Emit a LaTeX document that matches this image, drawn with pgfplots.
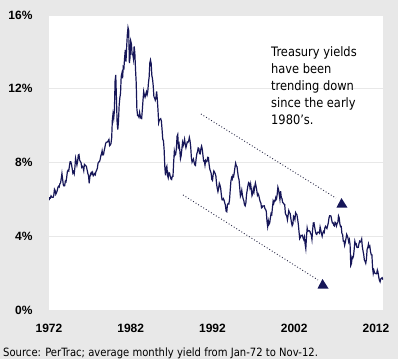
\documentclass[border=0pt]{standalone}
\usepackage{pgfplots}
\pgfplotsset{compat=1.18}
\usepackage{pgfplotstable}
\usepackage{fontspec}
\setmainfont{Liberation Sans}
\newfontfamily\tah{DejaVu Sans}[FakeStretch=0.88]
\definecolor{bg}{RGB}{232,232,232}
\definecolor{navy}{RGB}{22,22,88}
\definecolor{dotc}{RGB}{40,40,70}
\definecolor{gridc}{RGB}{232,232,232}

\pgfplotstableread[row sep=\\]{
y\\
5.95\\ 6.08\\ 6.07\\ 6.19\\ 6.13\\ 6.11\\ 6.11\\ 6.21\\ 6.55\\ 6.48\\ 6.28\\ 6.36\\
6.46\\ 6.64\\ 6.71\\ 6.67\\ 6.85\\ 6.90\\ 7.13\\ 7.40\\ 7.09\\ 6.79\\ 6.73\\ 6.74\\
6.99\\ 6.96\\ 7.21\\ 7.51\\ 7.58\\ 7.54\\ 7.81\\ 8.04\\ 8.04\\ 7.90\\ 7.68\\ 7.43\\
7.50\\ 7.39\\ 7.73\\ 8.23\\ 8.06\\ 7.86\\ 8.06\\ 8.40\\ 8.43\\ 8.14\\ 8.05\\ 8.00\\
7.74\\ 7.79\\ 7.73\\ 7.56\\ 7.90\\ 7.86\\ 7.83\\ 7.77\\ 7.59\\ 7.41\\ 7.29\\ 6.87\\
7.21\\ 7.39\\ 7.46\\ 7.37\\ 7.46\\ 7.28\\ 7.33\\ 7.40\\ 7.34\\ 7.52\\ 7.58\\ 7.69\\
7.96\\ 8.03\\ 8.04\\ 8.15\\ 8.35\\ 8.46\\ 8.64\\ 8.41\\ 8.42\\ 8.64\\ 8.81\\ 9.01\\
9.10\\ 9.10\\ 9.12\\ 9.18\\ 9.25\\ 8.91\\ 8.95\\ 9.03\\ 9.33\\ 10.30\\ 10.65\\ 10.39\\
10.80\\ 12.41\\ 12.75\\ 11.47\\ 10.18\\ 9.78\\ 10.25\\ 11.10\\ 11.51\\ 11.75\\ 12.68\\ 12.84\\
12.57\\ 13.19\\ 13.12\\ 13.68\\ 14.10\\ 13.47\\ 14.28\\ 14.94\\ 15.32\\ 15.15\\ 13.39\\ 13.72\\
14.59\\ 14.43\\ 13.86\\ 13.87\\ 13.62\\ 14.30\\ 13.95\\ 13.06\\ 12.34\\ 10.91\\ 10.55\\ 10.54\\
10.46\\ 10.72\\ 10.51\\ 10.40\\ 10.38\\ 10.85\\ 11.38\\ 11.85\\ 11.65\\ 11.54\\ 11.69\\ 11.83\\
11.67\\ 11.84\\ 12.32\\ 12.63\\ 13.41\\ 13.56\\ 13.36\\ 12.72\\ 12.52\\ 12.16\\ 11.57\\ 11.50\\
11.38\\ 11.51\\ 11.86\\ 11.43\\ 10.85\\ 10.16\\ 10.31\\ 10.33\\ 10.37\\ 10.24\\ 9.78\\ 9.26\\
9.19\\ 8.70\\ 7.78\\ 7.30\\ 7.71\\ 7.80\\ 7.30\\ 7.17\\ 7.45\\ 7.43\\ 7.25\\ 7.11\\
7.08\\ 7.25\\ 7.25\\ 8.02\\ 8.61\\ 8.40\\ 8.45\\ 8.76\\ 9.42\\ 9.52\\ 8.86\\ 8.99\\
8.67\\ 8.21\\ 8.37\\ 8.72\\ 9.09\\ 8.92\\ 9.06\\ 9.26\\ 8.98\\ 8.80\\ 8.96\\ 9.11\\
9.09\\ 9.17\\ 9.36\\ 9.18\\ 8.86\\ 8.28\\ 8.02\\ 8.11\\ 8.19\\ 8.01\\ 7.87\\ 7.84\\
8.21\\ 8.47\\ 8.59\\ 8.79\\ 8.76\\ 8.48\\ 8.47\\ 8.75\\ 8.89\\ 8.72\\ 8.39\\ 8.08\\
8.09\\ 7.85\\ 8.11\\ 8.04\\ 8.07\\ 8.28\\ 8.27\\ 7.90\\ 7.65\\ 7.53\\ 7.42\\ 7.09\\
7.03\\ 7.34\\ 7.54\\ 7.48\\ 7.39\\ 7.26\\ 6.84\\ 6.59\\ 6.42\\ 6.59\\ 6.87\\ 6.77\\
6.60\\ 6.26\\ 5.98\\ 5.97\\ 6.04\\ 5.96\\ 5.81\\ 5.68\\ 5.36\\ 5.33\\ 5.72\\ 5.77\\
5.75\\ 5.97\\ 6.48\\ 6.97\\ 7.18\\ 7.10\\ 7.30\\ 7.24\\ 7.46\\ 7.74\\ 7.96\\ 7.81\\
7.78\\ 7.47\\ 7.20\\ 7.06\\ 6.63\\ 6.17\\ 6.28\\ 6.49\\ 6.20\\ 6.04\\ 5.93\\ 5.71\\
5.65\\ 5.81\\ 6.27\\ 6.51\\ 6.74\\ 6.91\\ 6.87\\ 6.64\\ 6.83\\ 6.53\\ 6.20\\ 6.30\\
6.58\\ 6.42\\ 6.69\\ 6.89\\ 6.71\\ 6.49\\ 6.22\\ 6.30\\ 6.21\\ 6.03\\ 5.88\\ 5.81\\
5.54\\ 5.57\\ 5.65\\ 5.64\\ 5.65\\ 5.50\\ 5.46\\ 5.34\\ 4.81\\ 4.53\\ 4.83\\ 4.65\\
4.72\\ 5.00\\ 5.23\\ 5.18\\ 5.54\\ 5.90\\ 5.79\\ 5.94\\ 5.92\\ 6.11\\ 6.03\\ 6.28\\
6.66\\ 6.52\\ 6.26\\ 5.99\\ 6.44\\ 6.10\\ 6.05\\ 5.83\\ 5.80\\ 5.74\\ 5.72\\ 5.24\\
5.16\\ 5.10\\ 4.89\\ 5.14\\ 5.39\\ 5.28\\ 5.24\\ 4.97\\ 4.73\\ 4.57\\ 4.65\\ 5.09\\
5.04\\ 4.91\\ 5.28\\ 5.21\\ 5.16\\ 4.93\\ 4.65\\ 4.26\\ 3.87\\ 3.94\\ 4.05\\ 4.03\\
4.05\\ 3.90\\ 3.81\\ 3.96\\ 3.57\\ 3.33\\ 3.98\\ 4.45\\ 4.27\\ 4.29\\ 4.30\\ 4.27\\
4.15\\ 4.08\\ 3.83\\ 4.35\\ 4.72\\ 4.73\\ 4.50\\ 4.28\\ 4.13\\ 4.10\\ 4.19\\ 4.23\\
4.22\\ 4.17\\ 4.50\\ 4.34\\ 4.14\\ 4.00\\ 4.18\\ 4.26\\ 4.20\\ 4.46\\ 4.54\\ 4.47\\
4.42\\ 4.57\\ 4.72\\ 4.99\\ 5.11\\ 5.11\\ 5.09\\ 4.88\\ 4.72\\ 4.73\\ 4.60\\ 4.56\\
4.76\\ 4.72\\ 4.56\\ 4.69\\ 4.75\\ 5.10\\ 5.00\\ 4.67\\ 4.52\\ 4.53\\ 4.15\\ 4.10\\
3.74\\ 3.74\\ 3.51\\ 3.68\\ 3.88\\ 4.10\\ 4.01\\ 3.89\\ 3.69\\ 3.81\\ 3.53\\ 2.42\\
2.52\\ 2.87\\ 2.82\\ 2.93\\ 3.29\\ 3.72\\ 3.56\\ 3.59\\ 3.40\\ 3.39\\ 3.40\\ 3.59\\
3.73\\ 3.69\\ 3.73\\ 3.85\\ 3.42\\ 3.20\\ 3.01\\ 2.70\\ 2.65\\ 2.54\\ 2.76\\ 3.29\\
3.39\\ 3.58\\ 3.41\\ 3.46\\ 3.17\\ 3.00\\ 3.00\\ 2.30\\ 1.98\\ 2.15\\ 2.01\\ 1.98\\
1.97\\ 1.97\\ 2.17\\ 2.05\\ 1.80\\ 1.62\\ 1.53\\ 1.68\\ 1.72\\ 1.75\\ 1.65\\
}\yields

\begin{document}
\begin{tikzpicture}
\fill[bg] (0,0) rectangle (398pt,359pt);
\begin{axis}[
  at={(49pt,49pt)}, anchor=south west,
  scale only axis, width=334pt, height=295pt,
  xmin=1972, xmax=2012.86, ymin=0, ymax=16,
  axis background/.style={fill=white},
  axis line style={draw=none},
  major tick length=0pt,
  xtick={1972,1982,1992,2002,2012},
  ytick={0,4,8,12,16},
  ymajorgrids,
  grid style={gridc, line width=0.6pt},
  /pgf/number format/assume math mode=true,
  /pgf/number format/1000 sep={},
  tick label style={font=\bfseries\fontsize{12}{14}\selectfont, text=black},
  yticklabel={\pgfmathprintnumber{\tick}\%},
  yticklabel style={xshift=-13pt},
  xticklabel style={yshift=-11pt},
]
\addplot[navy, line width=1.2pt, no markers] table[x expr={1972+\coordindex/12}, y=y] {\yields};
% trend arrows
\draw[dotc, line width=0.9pt, dash pattern=on 0.9pt off 2.1pt] (axis cs:1990.59,10.63) -- (axis cs:2007.1,6.07);
\draw[dotc, line width=0.9pt, dash pattern=on 0.9pt off 2.1pt] (axis cs:1988.39,6.24) -- (axis cs:2004.9,1.63);
\fill[navy] ([xshift=-5.5pt,yshift=-4.5pt]axis cs:2007.84,5.80) -- ([xshift=5.5pt,yshift=-4.5pt]axis cs:2007.84,5.80) -- ([xshift=-0.5pt,yshift=5pt]axis cs:2007.84,5.80) -- cycle;
\fill[navy] ([xshift=-5.5pt,yshift=-4.5pt]axis cs:2005.52,1.41) -- ([xshift=5.5pt,yshift=-4.5pt]axis cs:2005.52,1.41) -- ([xshift=-0.5pt,yshift=5pt]axis cs:2005.52,1.41) -- cycle;
\end{axis}
\node[anchor=north west, inner sep=0pt, align=left, font=\tah\fontsize{13}{17}\selectfont, text=black] at (271pt,312.5pt) {Treasury yields\\have been\\trending down\\since the early\\1980’s.};
\node[anchor=west, inner sep=0pt, font=\tah\fontsize{11.4}{13}\selectfont, text=black] at (3pt,6pt) {Source: PerTrac; average monthly yield from Jan-72 to Nov-12.};
\end{tikzpicture}
\end{document}
